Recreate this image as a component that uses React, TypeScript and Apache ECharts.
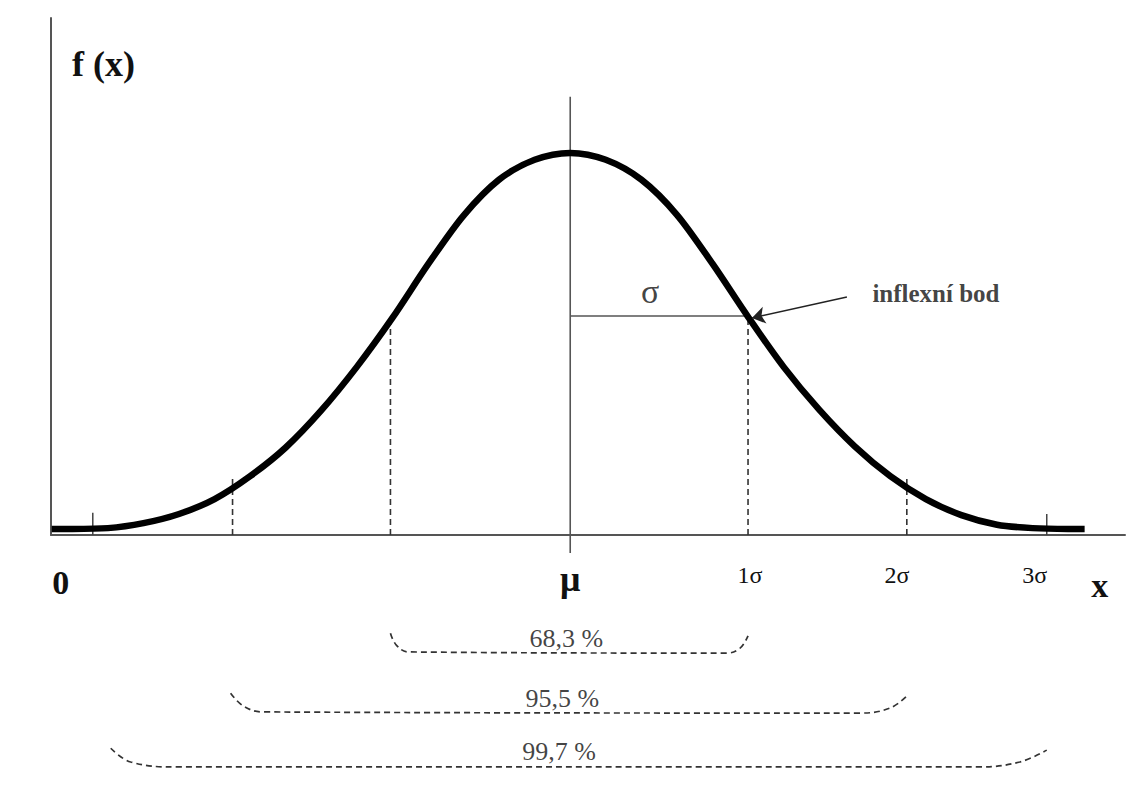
import React, { useEffect, useRef } from "react";
import * as echarts from "echarts";

// Normal curve (x in σ units from μ, y relative to peak)
const curveX = [-2.916, -2.8, -2.6, -2.4, -2.2, -2.0, -1.8, -1.6, -1.4, -1.2, -1.0, -0.8, -0.6, -0.4, -0.2, 0, 0.2, 0.4, 0.6, 0.8, 1.0, 1.2, 1.4, 1.6, 1.8, 2.0, 2.2, 2.4, 2.6, 2.8, 2.893];
const curveY = [0.016, 0.016, 0.018, 0.031, 0.055, 0.094, 0.154, 0.229, 0.326, 0.44, 0.568, 0.708, 0.836, 0.93, 0.982, 1.0, 0.982, 0.93, 0.838, 0.71, 0.571, 0.44, 0.328, 0.232, 0.154, 0.094, 0.052, 0.027, 0.018, 0.016, 0.016];

// Dashed verticals at ±1σ, ±2σ
const dashX = [-1.899, -1.011, 1.0, 1.893];
const dashH = [0.157, 0.568, 0.573, 0.157];

// small ticks at ±3σ
const tickX = [-2.685, 2.68];
const tickH = [0.058, 0.055];

// μ line
const muLineY = [-0.047, 1.147];

// σ segment (inflection level)
const sigmaSegX = [0, 1.0];
const sigmaSegY = 0.573;

// arrow to inflection point
const arrowFrom = [1.556, 0.623];
const arrowTo = [1.022, 0.568];

// x tick labels (last one is the axis title "x")
const xTickLabels = ["0", "μ", "1σ", "2σ", "3σ", "x"];
const xTickValues = [-2.865, 0, 1.011, 1.837, 2.612, 2.978];
const xTickStyles = ["b0", "mu", "s", "s", "s", "xb"];

// percent brackets
const pctLabels = ["68,3 %", "95,5 %", "99,7 %"];
const pctX = [-0.022, -0.045, -0.062];
const bracket68X = [-1.011, -0.978, -0.91, 0.882, 0.955, 1.0];
const bracket68Y = [-0.257, -0.288, -0.306, -0.309, -0.296, -0.264];
const bracket95X = [-1.91, -1.837, -1.73, 1.629, 1.798, 1.899];
const bracket95Y = [-0.414, -0.448, -0.463, -0.466, -0.453, -0.419];
const bracket99X = [-2.584, -2.472, -2.208, 2.303, 2.528, 2.68];
const bracket99Y = [-0.558, -0.594, -0.607, -0.607, -0.594, -0.563];

const FONT = "Liberation Serif";

function zip(xs: number[], ys: number[]) {
  return xs.map((x, i) => [x, ys[i]]);
}

export default function App() {
  const ref = useRef<HTMLDivElement>(null);
  useEffect(() => {
    if (!ref.current) return;
    const chart = echarts.init(ref.current, undefined, { renderer: "svg" });
    const dashedStyle = { color: "#333", width: 1.6, type: [6, 4] as any };
    const series: any[] = [];

    series.push({
      type: "line",
      name: "f(x)",
      data: zip(curveX, curveY),
      smooth: 0.3,
      showSymbol: false,
      lineStyle: { color: "#000", width: 6.5 },
      z: 5,
    });

    dashX.forEach((x, i) => {
      series.push({
        type: "line",
        data: [[x, 0], [x, dashH[i]]],
        showSymbol: false,
        lineStyle: dashedStyle,
      });
    });

    tickX.forEach((x, i) => {
      series.push({
        type: "line",
        data: [[x, 0], [x, tickH[i]]],
        showSymbol: false,
        lineStyle: { color: "#444", width: 1.5 },
      });
    });

    series.push({
      type: "line",
      data: [[0, muLineY[0]], [0, muLineY[1]]],
      showSymbol: false,
      clip: false,
      lineStyle: { color: "#555", width: 1.6 },
    });

    series.push({
      type: "line",
      data: [[sigmaSegX[0], sigmaSegY], [sigmaSegX[1], sigmaSegY]],
      showSymbol: false,
      lineStyle: { color: "#555", width: 1.6 },
    });

    // σ label
    series.push({
      type: "scatter",
      data: [[(sigmaSegX[0] + sigmaSegX[1]) / 2, sigmaSegY]],
      symbolSize: 1,
      itemStyle: { color: "transparent" },
      label: {
        show: true,
        formatter: "σ",
        position: "inside",
        offset: [-9, -25],
        fontFamily: FONT,
        fontSize: 34,
        color: "#111",
      },
    });

    series.push({
      type: "lines",
      coordinateSystem: "cartesian2d",
      data: [{ coords: [arrowFrom, arrowTo] }],
      symbol: ["none", "arrow"],
      symbolSize: 13,
      lineStyle: { color: "#222", width: 1.5, opacity: 1 },
      z: 6,
    });

    series.push({
      type: "scatter",
      data: [arrowFrom],
      symbolSize: 1,
      itemStyle: { color: "transparent" },
      label: {
        show: true,
        formatter: "inflexní bod",
        position: "right",
        distance: 25,
        offset: [0, -3],
        fontFamily: FONT,
        fontWeight: "bold",
        fontSize: 25,
        color: "#111",
      },
    });

    const brackets = [
      [bracket68X, bracket68Y],
      [bracket95X, bracket95Y],
      [bracket99X, bracket99Y],
    ];
    brackets.forEach(([bx, by], i) => {
      series.push({
        type: "line",
        data: zip(bx, by),
        smooth: 0.4,
        showSymbol: false,
        clip: false,
        lineStyle: { color: "#333", width: 1.7, type: [6, 4] },
      });
      series.push({
        type: "scatter",
        data: [[pctX[i], by[3]]],
        symbolSize: 1,
        clip: false,
        itemStyle: { color: "transparent" },
        label: {
          show: true,
          formatter: pctLabels[i],
          position: "inside",
          offset: [0, -15],
          fontFamily: FONT,
          fontSize: 26,
          color: "#111",
        },
      });
    });

    chart.setOption({
      animation: false,
      backgroundColor: "#ffffff",
      grid: { left: 51, right: 21, top: 18, bottom: 275 },
      xAxis: {
        type: "value",
        min: -2.92,
        max: 3.12,
        axisLine: { show: true, onZero: false, lineStyle: { color: "#555", width: 2 } },
        axisTick: { show: false },
        splitLine: { show: false },
        axisLabel: {
          show: true,
          customValues: xTickValues,
          margin: 28,
          formatter: (v: number) => {
            let idx = 0;
            let best = Infinity;
            xTickValues.forEach((t, i) => {
              const d = Math.abs(t - v);
              if (d < best) { best = d; idx = i; }
            });
            return `{${xTickStyles[idx]}|${xTickLabels[idx]}}`;
          },
          rich: {
            b0: { fontFamily: FONT, fontWeight: "bold", fontSize: 34, lineHeight: 38, color: "#111" },
            mu: { fontFamily: FONT, fontWeight: "bold", fontSize: 36, lineHeight: 32, color: "#111" },
            s: { fontFamily: FONT, fontSize: 24, lineHeight: 24, color: "#111" },
            xb: { fontFamily: FONT, fontWeight: "bold", fontSize: 34, lineHeight: 44, color: "#111" },
          },
        },
      },
      yAxis: {
        type: "value",
        min: 0,
        max: 1.353,
        name: "f (x)",
        nameLocation: "end",
        nameGap: -46,
        nameTextStyle: {
          fontFamily: FONT,
          fontWeight: "bold",
          fontSize: 36,
          color: "#111",
          align: "left",
          verticalAlign: "middle",
          padding: [0, 0, 0, 21],
        },
        axisLine: { show: true, onZero: false, lineStyle: { color: "#555", width: 2 } },
        axisTick: { show: false },
        axisLabel: { show: false },
        splitLine: { show: false },
      },
      series,
    });
    return () => chart.dispose();
  }, []);
  return (
    <div
      ref={ref}
      style={{ position: "absolute", left: 0, top: 0, width: 1146, height: 810 }}
    />
  );
}
